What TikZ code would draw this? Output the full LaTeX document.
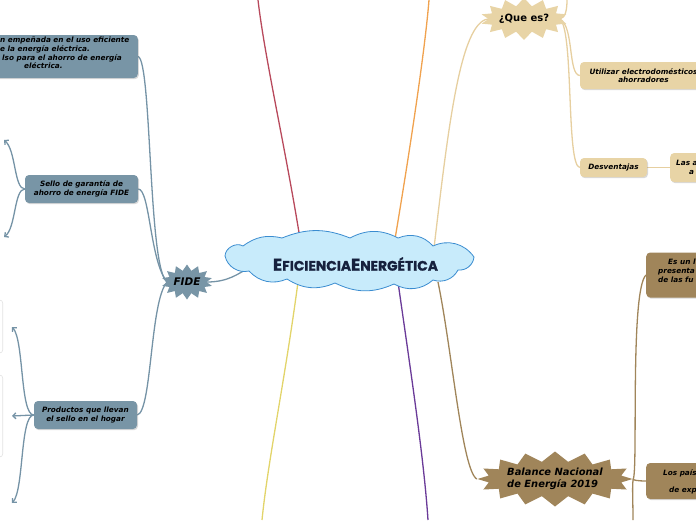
\documentclass[tikz,border=0pt]{standalone}
\usepackage{fontspec}
\newfontfamily\dv{DejaVu Sans}
\newfontfamily\pop{Poppins}[BoldFeatures={FakeBold=1.2}]
\usetikzlibrary{shapes.symbols,shadows,arrows.meta}
\pgfdeclarelayer{bg}
\pgfsetlayers{bg,main}
\definecolor{slate}{HTML}{7895A6}
\definecolor{slateline}{HTML}{7593A6}
\definecolor{brownbox}{HTML}{A0855A}
\definecolor{tanbox}{HTML}{E8D4A6}
\definecolor{tanline}{HTML}{E6CFA0}
\definecolor{cloudfill}{HTML}{C8EBFB}
\definecolor{cloudline}{HTML}{3A8CD0}
\definecolor{navy}{HTML}{16213E}
\definecolor{redline}{HTML}{B8495C}
\definecolor{orangeline}{HTML}{F0A24E}
\definecolor{yellowline}{HTML}{E2D46A}
\definecolor{purpleline}{HTML}{6A3A98}
\definecolor{faint}{HTML}{E2E2E2}
\begin{document}
\begin{tikzpicture}[x=1pt,y=-1pt,
  boxbase/.style={rounded corners=4pt, inner sep=2pt, align=center,
    drop shadow={shadow xshift=1pt,shadow yshift=-1.2pt,opacity=.3},
    font=\dv\bfseries\itshape\fontsize{7.3}{8.7}\selectfont},
  sbox/.style={boxbase, fill=slate},
  bbox/.style={boxbase, fill=brownbox},
  tbox/.style={boxbase, fill=tanbox},
  txt/.style={inner sep=0pt, align=left, font=\dv\bfseries\itshape\fontsize{7.3}{8.7}\selectfont},
  burst/.style={starburst, random starburst=0, inner sep=0pt},
  conn/.style={line width=1.3pt},
  tip/.style={-{Straight Barb[length=3pt,width=6pt]}},
  ghost/.style={rounded corners=3pt, draw=faint, fill=white, line width=0.6pt}
]
\useasboundingbox (0,0) rectangle (696,520);
\clip (0,0) rectangle (696,520);

% central cloud
\draw[cloudline, fill=cloudfill, line width=0.8pt]
  (225,256) to[bend left=60] (243,246) to[bend left=25] (282,238) to[bend left=22] (350,238)
  to[bend left=28] (398,238) to[bend left=35] (433,246) to[bend left=40] (474,257)
  to[bend left=45] (458,270) to[bend left=40] (433,280) to[bend left=35] (394,284)
  to[bend left=25] (335,283) to[bend left=28] (287,279) to[bend left=35] (249,271)
  to[bend left=45] cycle;
\node[inner sep=0pt, text=navy, font=\pop\bfseries] (title) at (355.5,264)
  {\fontsize{17}{17}\selectfont E\fontsize{13.8}{14}\selectfont FICIENCIA\fontsize{17}{17}\selectfont E\fontsize{13.8}{14}\selectfont NERGÉTICA};

% FIDE branch
\node[burst, fill=slate, minimum width=51pt, minimum height=35pt, starburst points=14, starburst point height=6pt,
      font=\dv\bfseries\itshape\fontsize{10.5}{12}\selectfont] (fide) at (187,282) {FIDE};
\node[sbox, minimum width=180pt, minimum height=43pt, anchor=east] (b1) at (138,56.5) {};
\node[txt, anchor=north west] (b1t) at (0,37)
  {n empeñada en el uso eficiente\\e la energía eléctrica.\\\hspace*{2pt}lso para el ahorro de energía\\\hspace*{24pt}eléctrica.};
\node[sbox, minimum width=113pt, minimum height=28pt] (b2) at (81.5,189) {Sello de garantía de\\ahorro de energía FIDE};
\node[sbox, minimum width=103pt, minimum height=28pt] (b3) at (85.5,415) {Productos que llevan\\el sello en el hogar};
\node[ghost, minimum width=30pt, minimum height=53pt, anchor=east] (g1) at (3,326.5) {};
\node[ghost, minimum width=30pt, minimum height=82pt, anchor=east] (g2) at (3,416) {};
\coordinate (a21) at (4,140);
\coordinate (a22) at (4,237);
\coordinate (a31) at (12,327);
\coordinate (a32) at (12,416);
\coordinate (a33) at (12,503);

% ¿Que es? branch
\node[burst, fill=tanbox, minimum width=78pt, minimum height=42pt, starburst points=14, starburst point height=8pt,
      font=\dv\bfseries\fontsize{10}{12}\selectfont] (que) at (524,19) {¿Que es?};
\node[tbox, minimum width=127pt, minimum height=27pt] (util) at (643.5,75.5) {Utilizar electrodomésticos\\ahorradores};
\node[tbox, minimum width=67pt, minimum height=19pt] (desv) at (613.5,167.5) {Desventajas};
\node[tbox, minimum width=50pt, minimum height=29pt, anchor=west] (lasa) at (670,167.5) {};
\node[txt, anchor=north west] (lasat) at (676,160) {Las a\\\hspace*{13pt}a};
\coordinate (qup) at (567,0);

% Balance branch
\node[burst, fill=brownbox, minimum width=136pt, minimum height=55pt, starburst points=16, starburst point height=10pt,
      align=left, font=\dv\bfseries\itshape\fontsize{9.9}{12}\selectfont] (bal) at (555,479) {Balance Nacional\\de Energía 2019};
\node[bbox, minimum width=60pt, minimum height=45pt, anchor=west] (es) at (646,275) {};
\node[txt, anchor=north west] (est) at (658,259) {\hspace*{10pt}Es un l\\presenta\\de las fu};
\node[bbox, minimum width=60pt, minimum height=36pt, anchor=west] (los) at (646,481) {};
\node[txt, anchor=north west] (lost) at (663,469) {Los país\\[8.7pt]\hspace*{6pt}de exp};
\coordinate (bdown) at (633,520);

% off-canvas ends
\coordinate (redend) at (258,0);
\coordinate (orend) at (429,0);
\coordinate (yelend) at (262,520);
\coordinate (purend) at (428,520);

\begin{pgfonlayer}{bg}
  % from the cloud
  \draw[conn, redline] (301,245) .. controls (286,150) and (265,60) .. (redend);
  \draw[conn, orangeline] (394,245) .. controls (410,150) and (425,50) .. (orend);
  \draw[conn, yellowline] (298,282) .. controls (285,380) and (268,460) .. (yelend);
  \draw[conn, purpleline] (398,282) .. controls (412,380) and (424,460) .. (purend);
  \draw[conn, tanline] (434,248) .. controls (448,130) and (460,22) .. (que.west);
  \draw[conn, brownbox] (438,282) .. controls (452,350) and (462,470) .. (bal.west);
  \draw[conn, slateline] (250,267) .. controls (238,274) and (228,282) .. (fide.east);
  % FIDE
  \draw[conn, slateline] (fide.west) .. controls (148,270) and (152,60) .. (b1.east);
  \draw[conn, slateline] (fide.west) .. controls (150,262) and (150,189) .. (b2.east);
  \draw[conn, slateline] (fide.west) .. controls (150,300) and (152,412) .. (b3.east);
  \draw[conn, slateline, tip] (b2.west) .. controls (14,189) and (16,150) .. (a21);
  \draw[conn, slateline, tip] (b2.west) .. controls (14,189) and (16,228) .. (a22);
  \draw[conn, slateline, tip] (b3.west) .. controls (20,415) and (24,340) .. (a31);
  \draw[conn, slateline, tip] (b3.west) -- (a32);
  \draw[conn, slateline, tip] (b3.west) .. controls (20,415) and (24,490) .. (a33);
  % ¿Que es?
  \draw[conn, tanline] (que.east) .. controls (566,18) and (567,8) .. (qup);
  \draw[conn, tanline] (que.east) .. controls (574,26) and (568,75) .. (util.west);
  \draw[conn, tanline] (que.east) .. controls (574,30) and (566,166) .. (desv.west);
  \draw[conn, tanline] (desv.east) -- (lasa.west);
  % Balance
  \draw[conn, brownbox] (bal.east) .. controls (638,470) and (630,290) .. (es.west);
  \draw[conn, brownbox] (bal.east) .. controls (632,480) and (638,481) .. (los.west);
  \draw[conn, brownbox] (bal.east) .. controls (632,485) and (633,500) .. (bdown);
\end{pgfonlayer}
\end{tikzpicture}
\end{document}
